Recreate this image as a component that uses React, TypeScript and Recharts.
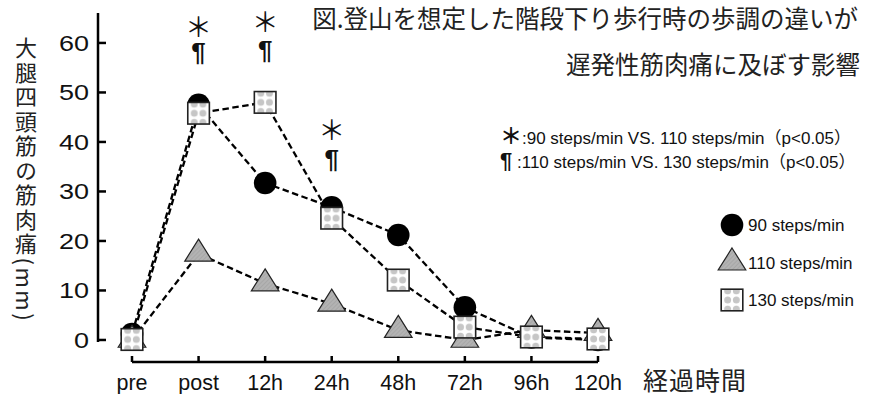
import React from "react";
import { LineChart, Line, XAxis, YAxis, ReferenceDot } from "recharts";

/* =======================
   Data
======================= */
const categories = ["pre", "post", "12h", "24h", "48h", "72h", "96h", "120h"];
const pace90 = [1.2, 47.5, 31.7, 26.8, 21.2, 6.6, 0.5, 0];
const pace110 = [0, 17.4, 11.4, 7.3, 2, 0, 2, 1.4];
const pace130 = [0.1, 45.8, 48, 24.6, 12.1, 2.6, 0.6, 0.2];
const yTicks = [0, 10, 20, 30, 40, 50, 60];
const seriesNames = ["90 steps/min", "110 steps/min", "130 steps/min"];

// significance marks (＊ / ¶) drawn above some time points
const sigAt = ["post", "12h", "24h"];
const sigStar = [63.6, 64.6, 42.8];
const sigPilcrow = [58.2, 58.6, 36.6];

const chartData = categories.map((c, i) => ({
  time: c,
  p90: pace90[i],
  p110: pace110[i],
  p130: pace130[i],
}));

const LATIN = "'Liberation Sans', 'Noto Sans CJK JP', sans-serif";
const CJK = "'Noto Sans CJK JP', 'Liberation Sans', sans-serif";

/* =======================
   Markers
======================= */
const CircleMark = ({ cx, cy }: { cx: number; cy: number }) => (
  <circle cx={cx} cy={cy} r={11.3} fill="#000" />
);

const TriangleMark = ({ cx, cy }: { cx: number; cy: number }) => (
  <path
    d={`M${cx},${cy - 14.7} L${cx + 13.8},${cy + 7.3} L${cx - 13.8},${cy + 7.3} Z`}
    fill="url(#triHatch)"
    stroke="#222"
    strokeWidth={1.2}
  />
);

const SquareMark = ({ cx, cy }: { cx: number; cy: number }) => (
  <rect
    x={cx - 10.8}
    y={cy - 10.8}
    width={21.6}
    height={21.6}
    fill="url(#sqDots)"
    stroke="#222"
    strokeWidth={1.6}
  />
);

/* =======================
   Axis ticks
======================= */
const YTick = (props: any) => {
  const { x, y, payload } = props;
  return (
    <g>
      <line x1={x} y1={y} x2={x + 8} y2={y} stroke="#000" strokeWidth={2.5} />
      <text
        transform={`translate(${x - 9},${y + 8}) scale(1.2,1)`}
        textAnchor="end"
        fontFamily={LATIN}
        fontSize={22.5}
        fill="#111"
      >
        {payload.value}
      </text>
    </g>
  );
};

const XTick = (props: any) => {
  const { x, y, payload } = props;
  return (
    <g>
      <line x1={x} y1={y} x2={x} y2={y - 6} stroke="#000" strokeWidth={2.5} />
      <text x={x} y={y + 28} textAnchor="middle" fontFamily={LATIN} fontSize={21.5} fill="#111">
        {payload.value}
      </text>
    </g>
  );
};

/* =======================
   Component
======================= */
export default function App() {
  return (
    <div style={{ position: "absolute", left: 0, top: 0, width: 878, height: 394, background: "#fff" }}>
      <LineChart
        width={878}
        height={394}
        data={chartData}
        margin={{ top: 13, right: 238, bottom: 0, left: 0 }}
      >
        <XAxis
          dataKey="time"
          scale="point"
          interval={0}
          padding={{ left: 34, right: 42 }}
          height={32}
          tickSize={0}
          tickMargin={0}
          tickLine={false}
          tick={<XTick />}
          axisLine={{ stroke: "#000", strokeWidth: 2.5, strokeDasharray: "0 34 466 1000" }}
        />
        <YAxis
          type="number"
          domain={[-4.45, 66.05]}
          ticks={yTicks}
          allowDataOverflow
          width={98}
          tickSize={0}
          tickMargin={0}
          tickLine={false}
          tick={<YTick />}
          axisLine={{ stroke: "#000", strokeWidth: 2.5, strokeDasharray: "329 100" }}
        />

        <Line
          dataKey="p90"
          name={seriesNames[0]}
          type="linear"
          stroke="#000"
          strokeWidth={2.3}
          strokeDasharray="6.5 3.5"
          isAnimationActive={false}
          activeDot={false}
          dot={(p: any) => <CircleMark key={`c${p.index}`} cx={p.cx} cy={p.cy} />}
        />
        <Line
          dataKey="p110"
          name={seriesNames[1]}
          type="linear"
          stroke="#000"
          strokeWidth={2.3}
          strokeDasharray="6.5 3.5"
          isAnimationActive={false}
          activeDot={false}
          dot={(p: any) => <TriangleMark key={`t${p.index}`} cx={p.cx} cy={p.cy} />}
        />
        <Line
          dataKey="p130"
          name={seriesNames[2]}
          type="linear"
          stroke="#000"
          strokeWidth={2.3}
          strokeDasharray="6.5 3.5"
          isAnimationActive={false}
          activeDot={false}
          dot={(p: any) => <SquareMark key={`s${p.index}`} cx={p.cx} cy={p.cy} />}
        />

        {sigAt.map((c, i) => (
          <ReferenceDot
            key={`star-${c}`}
            x={c}
            y={sigStar[i]}
            r={0}
            shape={(p: any) => (
              <text x={p.cx} y={p.cy} textAnchor="middle" dominantBaseline="central" fontFamily={CJK} fontSize={27} fill="#111">
                ＊
              </text>
            )}
          />
        ))}
        {sigAt.map((c, i) => (
          <ReferenceDot
            key={`para-${c}`}
            x={c}
            y={sigPilcrow[i]}
            r={0}
            shape={(p: any) => (
              <text x={p.cx} y={p.cy} textAnchor="middle" dominantBaseline="central" fontFamily={LATIN} fontWeight="bold" fontSize={26} fill="#111">
                ¶
              </text>
            )}
          />
        ))}
      </LineChart>

      {/* ================= Overlay texts, legend ================= */}
      <svg
        width={878}
        height={394}
        style={{ position: "absolute", left: 0, top: 0, pointerEvents: "none" }}
      >
        <defs>
          <pattern id="sqDots" patternUnits="objectBoundingBox" patternContentUnits="objectBoundingBox" width={1} height={1}>
            <rect width={1} height={1} fill="#fff" />
            {[0.08, 0.5, 0.92].map((cy) =>
              [0.3, 0.7].map((cx) => (
                <circle key={`${cx}-${cy}`} cx={cx} cy={cy} r={0.16} fill="#c6c6c6" />
              ))
            )}
          </pattern>
          <pattern id="triHatch" patternUnits="userSpaceOnUse" width={3} height={3} patternTransform="rotate(45)">
            <rect width={3} height={3} fill="#b3b3b3" />
            <line x1={0} y1={0} x2={0} y2={3} stroke="#9c9c9c" strokeWidth={1} />
          </pattern>
        </defs>

        {/* title */}
        <text x={858} y={28} textAnchor="end" fontFamily={CJK} fontSize={24.5} fill="#222">
          図.登山を想定した階段下り歩行時の歩調の違いが
        </text>
        <text x={860} y={74} textAnchor="end" fontFamily={CJK} fontSize={24.5} fill="#222">
          遅発性筋肉痛に及ぼす影響
        </text>

        {/* significance notes */}
        <text x={500} y={144} fontFamily={LATIN} fontSize={17} fill="#111">
          <tspan fontFamily={CJK} fontWeight="bold" fontSize={22}>＊</tspan>
          <tspan>:90 steps/min VS. 110 steps/min（p&lt;0.05）</tspan>
        </text>
        <text x={500} y={168} fontFamily={LATIN} fontSize={17} fill="#111">
          <tspan fontWeight="bold" fontSize={22}>¶</tspan>
          <tspan> :110 steps/min VS. 130 steps/min（p&lt;0.05）</tspan>
        </text>

        {/* legend */}
        <CircleMark cx={732} cy={225} />
        <TriangleMark cx={732} cy={262.7} />
        <SquareMark cx={732} cy={300} />
        {seriesNames.map((n, i) => (
          <text key={n} x={748} y={231 + i * 37.5} fontFamily={LATIN} fontSize={17} fill="#111">
            {n}
          </text>
        ))}

        {/* axis titles */}
        <text
          x={26}
          y={37}
          fontFamily={CJK}
          fontSize={22}
          letterSpacing={2.5}
          fill="#222"
          style={{ writingMode: "vertical-rl" }}
        >
          大腿四頭筋の筋肉痛(mm)
        </text>
        <text x={643} y={390} fontFamily={CJK} fontSize={25} letterSpacing={1} fill="#222">
          経過時間
        </text>
      </svg>
    </div>
  );
}
